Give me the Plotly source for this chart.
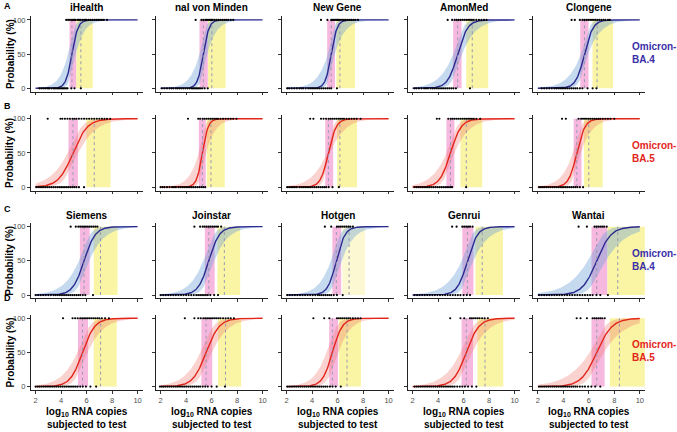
import numpy as np
import plotly.graph_objects as go

# ---------------- data ----------------
titles_top = ["iHealth", "nal von Minden", "New Gene", "AmonMed", "Clongene"]
titles_bottom = ["Siemens", "Joinstar", "Hotgen", "Genrui", "Wantai"]
row_letters = ["A", "B", "C", "D"]
row_variant = ["Omicron-<br>BA.4", "Omicron-<br>BA.5", "Omicron-<br>BA.4", "Omicron-<br>BA.5"]
x_ticks = [2, 4, 6, 8, 10]
y_ticks = [0, 50, 100]

# LOD50 / LOD95 (log10 RNA copies) per row, per column
lod50 = [[4.85, 5.35, 5.50, 5.53, 5.66],
         [4.93, 5.28, 5.28, 4.97, 5.06],
         [5.80, 5.78, 5.90, 6.30, 6.62],
         [5.68, 5.57, 5.59, 6.21, 6.62]]
lod95 = [[5.55, 6.02, 6.18, 6.68, 6.65],
         [6.60, 5.95, 6.18, 6.21, 6.00],
         [7.09, 7.00, 6.90, 7.46, 8.27],
         [7.10, 7.09, 6.74, 7.68, 8.40]]
# 95% CI of LOD50 (pink) and LOD95 (yellow)
lod50_ci = [[(4.66, 5.20), (5.05, 5.70), (5.18, 5.80), (5.18, 5.84), (5.33, 5.98)],
            [(4.58, 5.32), (5.00, 5.54), (5.03, 5.65), (4.65, 5.28), (4.81, 5.43)],
            [(5.47, 6.24), (5.47, 6.24), (5.59, 6.28), (5.90, 6.77), (6.21, 7.46)],
            [(5.32, 6.11), (5.20, 6.05), (5.34, 6.03), (5.84, 6.74), (6.21, 7.24)]]
lod95_ci = [[(5.20, 6.48), (5.72, 7.10), (5.90, 7.37), (6.21, 7.93), (6.29, 7.90)],
            [(5.98, 7.88), (5.62, 7.03), (5.96, 7.52), (5.75, 7.46), (5.62, 7.09)],
            [(6.56, 8.43), (6.46, 8.24), (6.37, 8.15), (6.93, 9.08), (7.46, 10.4)],
            [(6.56, 8.36), (6.50, 8.32), (6.12, 7.83), (7.09, 9.11), (7.65, 10.4)]]

# observed results: x of negative (0 %) and positive (100 %) samples
neg_x = [
    [[2.3, 2.45, 2.6, 2.75, 2.9, 3.0, 3.1, 3.25, 3.4, 3.5, 3.6, 3.7, 3.8, 3.9, 4.0, 4.1, 4.2, 4.3, 4.4, 4.5, 4.8, 5.05, 5.55],
     [2.1, 2.3, 2.5, 2.7, 2.85, 3.0, 3.2, 3.35, 3.5, 3.65, 3.8, 3.95, 4.1, 4.25, 4.4, 4.5, 4.6, 4.7, 4.8, 4.9, 5.0, 5.1, 5.25, 5.45, 5.7],
     [2.05, 2.2, 2.4, 2.6, 2.8, 3.0, 3.15, 3.3, 3.5, 3.7, 3.85, 4.0, 4.15, 4.3, 4.45, 4.6, 4.75, 4.9, 5.05, 5.2, 5.35, 5.5, 5.95],
     [2.15, 2.3, 2.5, 2.7, 2.9, 3.05, 3.2, 3.4, 3.55, 3.7, 3.85, 4.0, 4.15, 4.3, 4.45, 4.6, 4.75, 4.9, 5.05, 5.2, 5.4, 6.5],
     [2.3, 2.5, 2.7, 2.9, 3.1, 3.3, 3.45, 3.6, 3.75, 3.9, 4.05, 4.2, 4.35, 4.5, 4.65, 4.8, 4.95, 5.1, 5.3, 5.5, 5.9, 6.3, 6.6]],
    [[2.05, 2.2, 2.35, 2.5, 2.65, 2.8, 2.95, 3.1, 3.25, 3.4, 3.55, 3.7, 3.85, 4.0, 4.15, 4.3, 4.45, 4.6, 4.75, 4.9, 5.05, 5.2, 5.4, 5.8],
     [2.0, 2.15, 2.3, 2.5, 2.7, 2.9, 3.05, 3.2, 3.4, 3.55, 3.7, 3.85, 4.0, 4.15, 4.3, 4.45, 4.6, 4.75, 4.9, 5.05, 5.2, 5.35, 5.5],
     [2.05, 2.2, 2.35, 2.5, 2.65, 2.8, 3.0, 3.15, 3.3, 3.45, 3.6, 3.75, 3.9, 4.05, 4.2, 4.35, 4.5, 4.65, 4.8, 4.95, 5.1, 5.3, 5.6, 6.1],
     [2.15, 2.3, 2.45, 2.6, 2.75, 2.9, 3.05, 3.2, 3.35, 3.5, 3.65, 3.8, 3.95, 4.1, 4.25, 4.4, 4.55, 4.7, 4.85, 5.0, 5.1, 6.2],
     [2.1, 2.25, 2.4, 2.55, 2.7, 2.85, 3.0, 3.15, 3.3, 3.45, 3.6, 3.75, 3.9, 4.05, 4.2, 4.35, 4.5, 4.65, 4.8, 4.95, 5.1, 5.3, 5.55]],
    [[2.0, 2.2, 2.4, 2.6, 2.8, 3.0, 3.2, 3.4, 3.55, 3.7, 3.85, 4.0, 4.15, 4.3, 4.45, 4.6, 4.75, 4.9, 5.05, 5.2, 5.35, 5.5, 5.7, 5.9, 6.5],
     [2.0, 2.2, 2.4, 2.6, 2.8, 3.0, 3.2, 3.4, 3.6, 3.8, 4.0, 4.2, 4.4, 4.6, 4.8, 4.95, 5.1, 5.25, 5.4, 5.55, 5.7, 5.9, 6.2, 6.5],
     [2.05, 2.25, 2.45, 2.65, 2.85, 3.05, 3.25, 3.45, 3.65, 3.85, 4.05, 4.25, 4.45, 4.6, 4.75, 4.9, 5.05, 5.2, 5.35, 5.5, 5.7, 5.95, 6.4],
     [2.15, 2.35, 2.55, 2.75, 2.95, 3.15, 3.35, 3.55, 3.75, 3.95, 4.15, 4.35, 4.55, 4.75, 4.95, 5.15, 5.35, 5.55, 5.75, 6.0, 6.25, 6.5],
     [2.1, 2.3, 2.5, 2.7, 2.9, 3.1, 3.3, 3.5, 3.7, 3.9, 4.1, 4.3, 4.5, 4.7, 4.9, 5.1, 5.3, 5.5, 5.7, 5.9, 6.1, 6.3, 6.6, 6.9, 7.5]],
    [[2.0, 2.15, 2.3, 2.45, 2.6, 2.75, 2.9, 3.05, 3.2, 3.35, 3.5, 3.65, 3.8, 3.95, 4.1, 4.25, 4.4, 4.55, 4.7, 4.85, 5.0, 5.15, 5.3, 5.5, 5.7, 5.95, 6.3, 6.75],
     [1.95, 2.1, 2.25, 2.4, 2.55, 2.7, 2.85, 3.0, 3.15, 3.3, 3.45, 3.6, 3.75, 3.9, 4.05, 4.2, 4.35, 4.5, 4.65, 4.8, 4.95, 5.1, 5.3, 5.5, 5.7, 6.0, 6.4, 7.05],
     [2.05, 2.2, 2.35, 2.5, 2.65, 2.8, 2.95, 3.1, 3.25, 3.4, 3.55, 3.7, 3.85, 4.0, 4.15, 4.3, 4.45, 4.6, 4.75, 4.9, 5.05, 5.2, 5.4, 5.6, 5.85, 6.25],
     [2.15, 2.3, 2.45, 2.6, 2.75, 2.9, 3.05, 3.2, 3.35, 3.5, 3.65, 3.8, 3.95, 4.1, 4.25, 4.4, 4.55, 4.7, 4.85, 5.0, 5.15, 5.3, 5.5, 5.7, 5.9, 6.1, 6.35, 6.65, 7.0],
     [2.1, 2.25, 2.4, 2.55, 2.7, 2.85, 3.0, 3.15, 3.3, 3.45, 3.6, 3.75, 3.9, 4.05, 4.2, 4.35, 4.5, 4.65, 4.8, 4.95, 5.1, 5.3, 5.5, 5.7, 5.95, 6.2, 6.5, 6.9]],
]
pos_x = [
    [[4.4, 4.55, 4.7, 4.85, 4.95, 5.05, 5.15, 5.3, 5.4, 5.5, 5.65, 5.8, 5.9, 6.0, 6.15, 6.3, 6.45, 6.6, 6.75, 6.9, 7.05, 7.2, 7.35, 7.6],
     [4.75, 5.2, 5.35, 5.5, 5.6, 5.7, 5.8, 5.9, 6.0, 6.1, 6.25, 6.4, 6.55, 6.7, 6.85, 7.0, 7.15, 7.3, 7.5, 7.7],
     [4.7, 5.2, 5.5, 5.6, 5.7, 5.8, 5.9, 6.0, 6.1, 6.2, 6.35, 6.5, 6.65, 6.8, 6.95, 7.1, 7.25, 7.4, 7.6],
     [4.75, 5.1, 5.3, 5.45, 5.6, 5.75, 5.9, 6.05, 6.2, 6.35, 6.5, 6.65, 6.8, 7.0, 7.2, 7.4, 7.6, 7.8],
     [4.65, 4.9, 5.3, 5.5, 5.65, 5.8, 5.95, 6.1, 6.25, 6.4, 6.55, 6.7, 6.85, 7.0, 7.15, 7.3, 7.5, 7.65]],
    [[2.95, 3.95, 4.1, 4.3, 4.5, 4.7, 4.9, 5.05, 5.2, 5.4, 5.6, 5.8, 6.0, 6.2, 6.4, 6.6, 6.8, 7.0, 7.2, 7.4, 7.6, 7.85],
     [4.15, 4.95, 5.1, 5.3, 5.45, 5.6, 5.75, 5.9, 6.05, 6.2, 6.35, 6.5, 6.7, 6.9, 7.1, 7.3, 7.5, 7.7, 7.95],
     [3.85, 4.1, 4.7, 4.9, 5.1, 5.3, 5.45, 5.6, 5.75, 5.9, 6.05, 6.2, 6.35, 6.5, 6.7, 6.9, 7.1, 7.3, 7.5, 7.8],
     [3.9, 4.1, 4.8, 5.0, 5.15, 5.3, 5.45, 5.6, 5.75, 5.9, 6.05, 6.2, 6.35, 6.5, 6.65, 6.8, 7.0, 7.3],
     [3.9, 4.2, 5.2, 5.4, 5.55, 5.7, 5.85, 6.0, 6.15, 6.3, 6.45, 6.6, 6.75, 6.9, 7.1, 7.3, 7.5, 7.7, 8.0]],
    [[4.75, 5.15, 5.35, 5.5, 5.65, 5.8, 5.95, 6.1, 6.25, 6.4, 6.55, 6.7, 6.85],
     [4.65, 5.1, 5.3, 5.45, 5.6, 5.75, 5.9, 6.05, 6.2, 6.35, 6.5, 6.75],
     [5.0, 5.5, 5.95, 6.1, 6.25, 6.4, 6.55, 6.7, 6.85, 7.0, 7.2],
     [5.1, 5.45, 5.9, 6.05, 6.2, 6.35, 6.5, 6.7],
     [5.2, 5.85, 6.45, 6.6, 6.75, 6.9, 7.05, 7.2, 7.4]],
    [[4.15, 4.9, 5.1, 5.3, 5.5, 5.65, 5.8, 5.95, 6.1, 6.25, 6.4, 6.55, 6.7, 6.85, 7.0, 7.2, 7.45, 7.75],
     [3.9, 4.65, 4.95, 5.15, 5.35, 5.5, 5.65, 5.8, 5.95, 6.1, 6.25, 6.4, 6.55, 6.7, 6.9, 7.1, 7.3, 7.5, 7.75],
     [4.1, 4.95, 5.35, 5.95, 6.1, 6.25, 6.4, 6.55, 6.7, 6.85, 7.0, 7.2, 7.4, 7.6, 7.8],
     [4.95, 5.75, 6.05, 6.5, 6.65, 6.8, 6.95, 7.1, 7.25, 7.45, 7.65, 7.9],
     [5.05, 5.35, 5.85, 6.3, 6.45, 6.6, 6.75, 6.9, 7.05, 7.25]],
]

# ---------------- styles ----------------
FONT = "Liberation Sans, Arial, sans-serif"
W, H = 677, 432
col_left_px = [30.5, 155.5, 281.5, 407.5, 532.7]
panel_w_px = 112.2
row_y100_px = [19, 118.3, 226.7, 318.7]
px_per_unit = 0.687
XR = [1.6, 10.4]
YR = [-5, 105]
line_col = {"BA.4": "#2b2a8e", "BA.5": "#e3261c"}
band_col = {"BA.4": "rgba(110,160,215,0.40)", "BA.5": "rgba(240,110,100,0.30)"}
label_col = {"BA.4": "#3a2fa8", "BA.5": "#e3261c"}
pink = "#f6b8de"
yellow = "rgb(250,244,165)"
yellow_pale = "rgb(252,249,210)"
L95 = np.log(19.0)


def logistic(z):
    return 100.0 / (1.0 + np.exp(-z))


def model(m, l95, ci50, ci95, xs):
    k = L95 / (l95 - m)
    eta = k * (xs - m)
    px = np.array([ci50[0], ci50[1], ci95[0], ci95[1]])
    w = np.array([k * (m - ci50[0]), k * (ci50[1] - m),
                  L95 - k * (ci95[0] - m), k * (ci95[1] - m) - L95])
    w = np.clip(w, 0.15, None)
    A = np.vstack([np.ones_like(px), (px - m) ** 2]).T
    a, b = np.linalg.lstsq(A, w ** 2, rcond=None)[0]
    a = max(a, 0.02)
    b = max(b, 0.3)
    ww = np.sqrt(a + b * (xs - m) ** 2)
    return logistic(eta), logistic(eta + ww), logistic(eta - ww)


fig = go.Figure()
layout = dict(width=W, height=H, margin=dict(l=0, r=0, t=0, b=0),
              paper_bgcolor="white", plot_bgcolor="white", showlegend=False,
              font=dict(family=FONT, size=8, color="#4d4d4d"))
annotations = []
xs = np.linspace(2, 10, 241)
tickfont = dict(size=7.5, color="#4d4d4d", family=FONT)

for r in range(4):
    var = "BA.4" if "BA.4" in row_variant[r] else "BA.5"
    top_px = row_y100_px[r] - 5 * px_per_unit
    bot_px = row_y100_px[r] + 105 * px_per_unit
    for c in range(5):
        i = r * 5 + c + 1
        xa = "x" if i == 1 else f"x{i}"
        ya = "y" if i == 1 else f"y{i}"
        x0 = col_left_px[c] / W
        x1 = (col_left_px[c] + panel_w_px) / W
        y0 = 1 - bot_px / H
        y1 = 1 - top_px / H
        layout["xaxis" if i == 1 else f"xaxis{i}"] = dict(
            domain=[x0, x1], range=XR, anchor=ya, showgrid=False, zeroline=False,
            showline=True, linecolor="#222", linewidth=1, ticks="outside", ticklen=2.5,
            tickcolor="#333", tickwidth=1, tickvals=x_ticks,
            showticklabels=(r == 3), tickfont=tickfont)
        layout["yaxis" if i == 1 else f"yaxis{i}"] = dict(
            domain=[y0, y1], range=YR, anchor=xa, showgrid=False, zeroline=False,
            showline=True, linecolor="#222", linewidth=1, ticks="outside", ticklen=2.5,
            tickcolor="#333", tickwidth=1, tickvals=y_ticks,
            showticklabels=(c == 0), tickfont=tickfont)

        m, l95 = lod50[r][c], lod95[r][c]
        p_lo, p_hi = lod50_ci[r][c]
        y_lo, y_hi = lod95_ci[r][c]
        ycol = yellow_pale if (r == 2 and c == 2) else yellow
        # CI rectangles
        fig.add_trace(go.Scatter(x=[p_lo, p_hi, p_hi, p_lo, p_lo], y=[0, 0, 100, 100, 0],
                                 fill="toself", fillcolor=pink, mode="lines",
                                 line=dict(width=0), xaxis=xa, yaxis=ya, hoverinfo="skip"))
        fig.add_trace(go.Scatter(x=[y_lo, y_hi, y_hi, y_lo, y_lo], y=[0, 0, 100, 100, 0],
                                 fill="toself", fillcolor=ycol, mode="lines",
                                 line=dict(width=0), xaxis=xa, yaxis=ya, hoverinfo="skip"))
        fit, upper, lower = model(m, l95, (p_lo, p_hi), (y_lo, y_hi), xs)
        fig.add_trace(go.Scatter(x=np.concatenate([xs, xs[::-1]]),
                                 y=np.concatenate([upper, lower[::-1]]),
                                 fill="toself", fillcolor=band_col[var], mode="lines",
                                 line=dict(width=0), xaxis=xa, yaxis=ya, hoverinfo="skip"))
        fig.add_trace(go.Scatter(x=xs, y=fit, mode="lines",
                                 line=dict(color=line_col[var], width=1.4),
                                 xaxis=xa, yaxis=ya, hoverinfo="skip"))
        fig.add_trace(go.Scatter(x=[m, m, None, l95, l95], y=[0, 100, None, 0, 100],
                                 mode="lines", line=dict(color="#9a9ab0", width=1, dash="3px,3px"),
                                 xaxis=xa, yaxis=ya, hoverinfo="skip"))
        nx = neg_x[r][c]
        px_ = pos_x[r][c]
        fig.add_trace(go.Scatter(x=nx + px_, y=[0] * len(nx) + [100] * len(px_),
                                 mode="markers", marker=dict(color="black", size=2.2),
                                 xaxis=xa, yaxis=ya, hoverinfo="skip"))

        # column titles
        if r in (0, 2):
            t = titles_top[c] if r == 0 else titles_bottom[c]
            annotations.append(dict(text=f"<b>{t}</b>", x=(col_left_px[c] + panel_w_px / 2) / W,
                                    y=1 - (6.5 if r == 0 else 215) / H, xref="paper", yref="paper",
                                    showarrow=False, xanchor="center", yanchor="middle",
                                    font=dict(size=10, color="black", family=FONT)))
        if r == 3:
            annotations.append(dict(text="<b>log<sub>10</sub> RNA copies<br>subjected to test</b>",
                                    x=(col_left_px[c] + panel_w_px / 2) / W, y=1 - 418.5 / H,
                                    xref="paper", yref="paper", showarrow=False,
                                    xanchor="center", yanchor="middle",
                                    font=dict(size=10, color="black", family=FONT)))

    mid_px = (top_px + bot_px) / 2
    annotations.append(dict(text="<b>Probability (%)</b>", x=10 / W, y=1 - mid_px / H,
                            xref="paper", yref="paper", showarrow=False, textangle=-90,
                            xanchor="center", yanchor="middle",
                            font=dict(size=10, color="black", family=FONT)))
    annotations.append(dict(text=f"<b>{row_variant[r]}</b>", x=1.0, y=1 - (mid_px - 1) / H,
                            xref="paper", yref="paper", showarrow=False, align="left",
                            xanchor="right", yanchor="middle", borderpad=0,
                            font=dict(size=10, color=label_col[var], family=FONT)))
    letter_y = [5, 105, 209, 298][r]
    annotations.append(dict(text=f"<b>{row_letters[r]}</b>", x=2 / W, y=1 - letter_y / H,
                            xref="paper", yref="paper", showarrow=False,
                            xanchor="left", yanchor="middle",
                            font=dict(size=9, color="black", family=FONT)))

layout["annotations"] = annotations
fig.update_layout(**layout)
fig.write_html("out.html", config={"displayModeBar": False},
               post_script="document.body.style.margin='0px';document.body.style.padding='0px';")
